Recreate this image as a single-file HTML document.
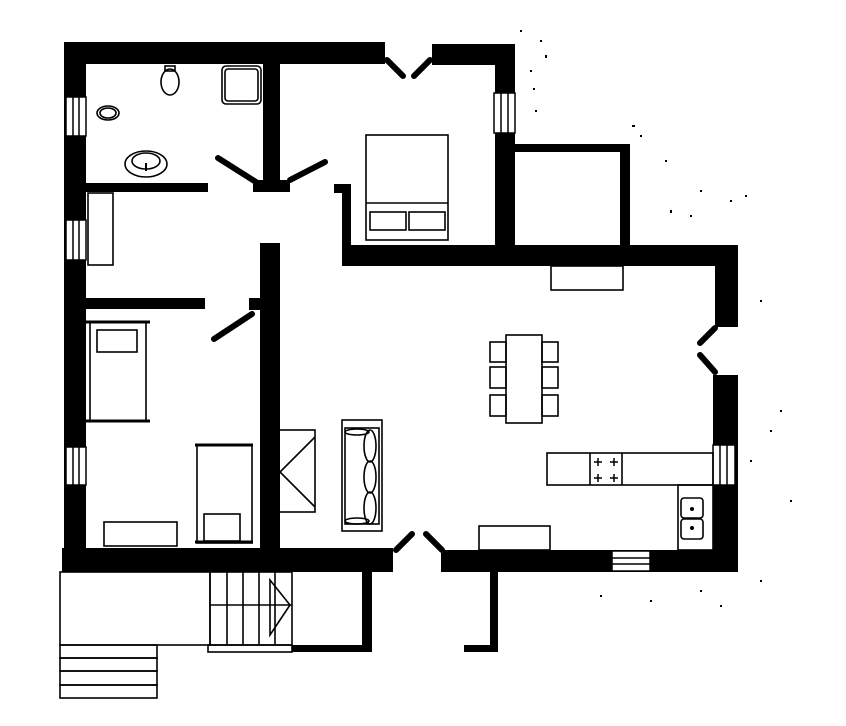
<!DOCTYPE html>
<html><head><style>html,body{margin:0;padding:0;background:#fff}svg{display:block}</style></head>
<body>
<svg width="846" height="726" viewBox="0 0 846 726" xmlns="http://www.w3.org/2000/svg">
<g fill="#000">
<rect x="64" y="42" width="321" height="22"/>
<rect x="432" y="44" width="83" height="21"/>
<rect x="64" y="42" width="22" height="530"/>
<rect x="495" y="44" width="20" height="222"/>
<rect x="515" y="144" width="115" height="8"/>
<rect x="620" y="144" width="10" height="110"/>
<rect x="342" y="245" width="396" height="21"/>
<rect x="334" y="184" width="17" height="9"/>
<rect x="342" y="184" width="9" height="82"/>
<rect x="715" y="245" width="23" height="82"/>
<rect x="713" y="375" width="25" height="197"/>
<rect x="441" y="550" width="297" height="22"/>
<rect x="62" y="548" width="331" height="24"/>
<rect x="263" y="64" width="17" height="128"/>
<rect x="253" y="180" width="37" height="12"/>
<rect x="86" y="183" width="122" height="9"/>
<rect x="64" y="298" width="141" height="11"/>
<rect x="249" y="298" width="14" height="12"/>
<rect x="260" y="243" width="20" height="307"/>
<rect x="362" y="572" width="10" height="80"/>
<rect x="292" y="645" width="80" height="7"/>
<rect x="490" y="572" width="8" height="80"/>
<rect x="464" y="645" width="34" height="7"/>
</g>
<g stroke="#000" stroke-width="6" stroke-linecap="round">
<line x1="387" y1="60" x2="403" y2="76"/>
<line x1="430" y1="60" x2="414" y2="76"/>
<line x1="218" y1="158" x2="256" y2="182"/>
<line x1="325" y1="162" x2="290" y2="180"/>
<line x1="252" y1="314" x2="214" y2="339"/>
<line x1="715" y1="328" x2="700" y2="343"/>
<line x1="700" y1="355" x2="715" y2="372"/>
<line x1="396" y1="550" x2="412" y2="534"/>
<line x1="442" y1="550" x2="426" y2="534"/>
</g>
<g fill="#fff" stroke="#000" stroke-width="1.5">
<rect x="66" y="97" width="20" height="39"/>
<rect x="66" y="220" width="20" height="40"/>
<rect x="66" y="447" width="20" height="38"/>
<rect x="494" y="93" width="21" height="40"/>
<rect x="713" y="445" width="22" height="40"/>
<rect x="612" y="551" width="38" height="20"/>
</g>
<g stroke="#000" stroke-width="1.5">
<line x1="73" y1="97" x2="73" y2="136"/><line x1="79" y1="97" x2="79" y2="136"/>
<line x1="73" y1="220" x2="73" y2="260"/><line x1="79" y1="220" x2="79" y2="260"/>
<line x1="73" y1="447" x2="73" y2="485"/><line x1="79" y1="447" x2="79" y2="485"/>
<line x1="501" y1="93" x2="501" y2="133"/><line x1="508" y1="93" x2="508" y2="133"/>
<line x1="720" y1="445" x2="720" y2="485"/><line x1="727" y1="445" x2="727" y2="485"/>
<line x1="612" y1="558" x2="650" y2="558"/><line x1="612" y1="564" x2="650" y2="564"/>
</g>
<g fill="none" stroke="#000" stroke-width="1.6">
<ellipse cx="170" cy="82" rx="9" ry="13"/><rect x="165" y="66" width="10" height="5"/>
<rect x="222" y="66" width="39" height="38" rx="4"/><rect x="225" y="69" width="33" height="32" rx="3"/>
<ellipse cx="108" cy="113" rx="11" ry="7"/><ellipse cx="108" cy="113" rx="8" ry="5"/>
<ellipse cx="146" cy="164" rx="21" ry="13"/><ellipse cx="146" cy="161" rx="14" ry="8"/>
<rect x="88" y="193" width="25" height="72"/>
<rect x="90" y="322" width="56" height="99"/><line x1="86" y1="322" x2="150" y2="322" stroke-width="3"/><line x1="86" y1="421" x2="150" y2="421" stroke-width="3"/>
<rect x="97" y="330" width="40" height="22"/>
<rect x="197" y="445" width="55" height="98"/><line x1="195" y1="445" x2="253" y2="445" stroke-width="3"/><line x1="195" y1="542" x2="253" y2="542" stroke-width="3"/>
<rect x="204" y="514" width="36" height="27"/>
<rect x="104" y="522" width="73" height="24"/>
<rect x="366" y="135" width="82" height="105"/><line x1="366" y1="203" x2="448" y2="203"/>
<rect x="370" y="212" width="36" height="18"/><rect x="409" y="212" width="36" height="18"/>
<rect x="551" y="266" width="72" height="24"/>
<rect x="279" y="430" width="36" height="82"/>
<polyline points="315,437 280,472 315,507"/>
<rect x="342" y="420" width="40" height="111"/>
<rect x="345" y="428" width="34" height="96"/>
<ellipse cx="370" cy="446" rx="6" ry="16"/><ellipse cx="370" cy="477" rx="6" ry="16"/><ellipse cx="370" cy="508" rx="6" ry="16"/>
<ellipse cx="357" cy="432" rx="12" ry="3"/><ellipse cx="357" cy="521" rx="12" ry="3"/>
<rect x="506" y="335" width="36" height="88"/>
<rect x="490" y="342" width="16" height="20"/><rect x="490" y="367" width="16" height="21"/><rect x="490" y="395" width="16" height="21"/>
<rect x="542" y="342" width="16" height="20"/><rect x="542" y="367" width="16" height="21"/><rect x="542" y="395" width="16" height="21"/>
<rect x="547" y="453" width="166" height="32"/>
<line x1="590" y1="453" x2="590" y2="485"/><line x1="622" y1="453" x2="622" y2="485"/>
<rect x="678" y="485" width="35" height="65"/>
<rect x="681" y="498" width="22" height="20" rx="3"/><rect x="681" y="519" width="22" height="20" rx="3"/>
<rect x="479" y="526" width="71" height="24"/>
<rect x="60" y="572" width="150" height="73"/>
<rect x="210" y="572" width="82" height="73"/>
<line x1="210" y1="605" x2="292" y2="605"/>
<line x1="227" y1="572" x2="227" y2="645"/><line x1="243" y1="572" x2="243" y2="645"/><line x1="259" y1="572" x2="259" y2="645"/><line x1="275" y1="572" x2="275" y2="645"/>
<polygon points="270,580 290,605 270,635"/>
<rect x="208" y="645" width="84" height="7"/>
<rect x="60" y="645" width="97" height="13"/><rect x="60" y="658" width="97" height="13"/><rect x="60" y="671" width="97" height="14"/><rect x="60" y="685" width="97" height="13"/>
</g>
<g stroke="#000" stroke-width="1.5">
<line x1="594" y1="462" x2="602" y2="462"/><line x1="598" y1="458" x2="598" y2="466"/>
<line x1="610" y1="462" x2="618" y2="462"/><line x1="614" y1="458" x2="614" y2="466"/>
<line x1="594" y1="478" x2="602" y2="478"/><line x1="598" y1="474" x2="598" y2="482"/>
<line x1="610" y1="478" x2="618" y2="478"/><line x1="614" y1="474" x2="614" y2="482"/>
</g>
<g fill="#000">
<rect x="145" y="163" width="2" height="8"/><circle cx="692" cy="509" r="2"/><circle cx="692" cy="528" r="2"/>
<rect x="540" y="40" width="2" height="2"/><rect x="530" y="70" width="2" height="2"/><rect x="535" y="110" width="2" height="2"/>
<rect x="545" y="55" width="2" height="3"/><rect x="520" y="30" width="2" height="2"/><rect x="533" y="88" width="2" height="2"/>
<rect x="640" y="135" width="2" height="2"/><rect x="665" y="160" width="2" height="2"/><rect x="690" y="215" width="2" height="2"/>
<rect x="632" y="125" width="3" height="2"/><rect x="700" y="190" width="2" height="2"/><rect x="730" y="200" width="2" height="2"/>
<rect x="745" y="195" width="2" height="2"/><rect x="670" y="210" width="2" height="3"/><rect x="760" y="300" width="2" height="2"/>
<rect x="770" y="430" width="2" height="2"/><rect x="760" y="580" width="2" height="2"/><rect x="650" y="600" width="2" height="2"/>
<rect x="780" y="410" width="2" height="2"/><rect x="750" y="460" width="2" height="2"/><rect x="790" y="500" width="2" height="2"/>
<rect x="700" y="590" width="2" height="2"/><rect x="720" y="605" width="2" height="2"/><rect x="600" y="595" width="2" height="2"/>
</g>
</svg>
</body></html>
